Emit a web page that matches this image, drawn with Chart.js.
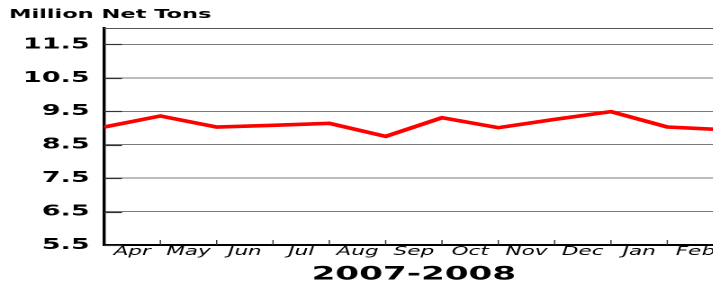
<!DOCTYPE html>
<html>
<head>
<meta charset="utf-8">
<script src="https://cdn.jsdelivr.net/npm/chart.js@4/dist/chart.umd.min.js"></script>
<style>
    html, body { margin: 0; padding: 0; background: #fff; overflow: hidden; width: 713px; height: 284px; }
    /* the original picture is stretched sideways, so the chart is drawn narrow and widened */
    #wrap { width: 420px; height: 284px; transform: scaleX(1.8); transform-origin: 0 0; }
</style>
</head>
<body>
<div id="wrap"><canvas id="grafico"></canvas></div>
<script>
    // datos
    const meses = ['Apr', 'May', 'Jun', 'Jul', 'Aug', 'Sep', 'Oct', 'Nov', 'Dec', 'Jan', 'Feb'];
    const toneladas = [9.03, 9.36, 9.03, 9.08, 9.14, 8.75, 9.31, 9.01, 9.26, 9.49, 9.03, 8.95];
    const ticksY = [5.5, 6.5, 7.5, 8.5, 9.5, 10.5, 11.5];
    const tituloY = 'Million Net Tons';
    const tituloX = '2007-2008';

    // marcas cortas hacia adentro en los ejes + linea de arriba
    const marcas = {
        id: 'marcas',
        beforeDatasetsDraw(chart) {
            const ctx = chart.ctx;
            const area = chart.chartArea;
            const x = chart.scales.x;
            const y = chart.scales.y;
            ctx.save();
            ctx.strokeStyle = '#555';
            ctx.lineWidth = 1;
            ctx.beginPath();
            ctx.moveTo(area.left, Math.round(area.top) + 0.5);
            ctx.lineTo(area.right, Math.round(area.top) + 0.5);
            ctx.stroke();
            ctx.strokeStyle = '#333';
            ctx.lineWidth = 1.2;
            ticksY.forEach(v => {
                const py = Math.round(y.getPixelForValue(v)) + 0.5;
                ctx.beginPath();
                ctx.moveTo(area.left, py);
                ctx.lineTo(area.left + 10, py);
                ctx.stroke();
            });
            ctx.lineWidth = 0.7;
            for (let i = 1; i <= meses.length; i++) {
                const px = x.getPixelForValue(i);
                ctx.beginPath();
                ctx.moveTo(px, area.bottom);
                ctx.lineTo(px, area.bottom - 5);
                ctx.stroke();
            }
            ctx.restore();
        }
    };

    new Chart(document.getElementById('grafico'), {
        type: 'line',
        data: {
            datasets: [{
                data: toneladas.map((v, i) => ({ x: i, y: v })),
                borderColor: '#ff0000',
                borderWidth: 3.6,
                pointRadius: 0,
                tension: 0
            }]
        },
        options: {
            responsive: true,
            maintainAspectRatio: false,
            devicePixelRatio: 2,
            animation: false,
            layout: { padding: { left: 5, right: 18, top: 0, bottom: 0 } },
            plugins: {
                legend: { display: false },
                tooltip: { enabled: false },
                title: {
                    display: true,
                    text: tituloY,
                    align: 'start',
                    color: '#000',
                    font: { family: 'DejaVu Sans', size: 12.5, weight: 'bold', lineHeight: 1.1 },
                    padding: { top: 8, bottom: 6 }
                }
            },
            scales: {
                x: {
                    type: 'linear',
                    min: 0,
                    max: meses.length,
                    afterBuildTicks: s => { s.ticks = meses.map((m, i) => ({ value: i + 0.5 })); },
                    ticks: {
                        callback: v => meses[Math.floor(v)],
                        color: '#000',
                        padding: 1,
                        maxRotation: 0,
                        autoSkip: false,
                        font: { family: 'DejaVu Sans', size: 12, style: 'italic', lineHeight: 1 }
                    },
                    grid: { display: false, drawTicks: false },
                    border: { display: true, color: '#000', width: 2 },
                    title: {
                        display: true,
                        text: tituloX,
                        color: '#000',
                        font: { family: 'DejaVu Sans', size: 19, weight: 'bold', lineHeight: 1 },
                        padding: { top: 6, bottom: 0 }
                    }
                },
                y: {
                    min: 5.5,
                    max: 12,
                    afterBuildTicks: s => { s.ticks = ticksY.map(v => ({ value: v })); },
                    afterFit: s => { s.width = 52.8; },
                    ticks: {
                        callback: v => v.toFixed(1),
                        color: '#000',
                        padding: 8,
                        font: { family: 'DejaVu Sans', size: 15, weight: 'bold' }
                    },
                    grid: { color: '#7a7a7a', lineWidth: 1, drawTicks: false },
                    border: { display: true, color: '#000', width: 1.7 }
                }
            }
        },
        plugins: [marcas]
    });
</script>
</body>
</html>
